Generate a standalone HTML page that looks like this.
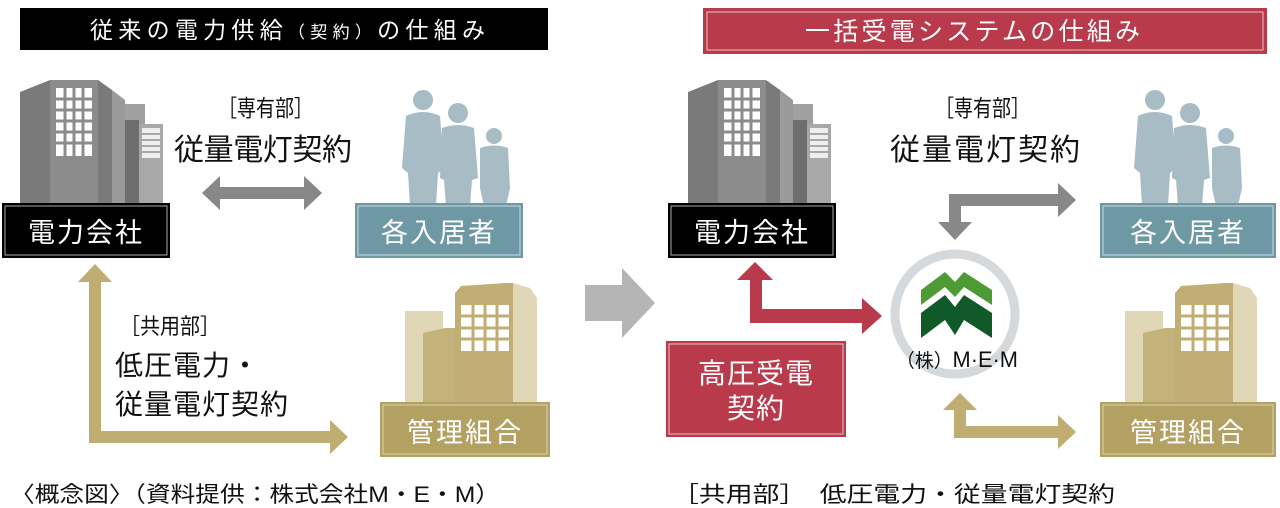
<!DOCTYPE html>
<html><head><meta charset="utf-8"><style>
html,body{margin:0;padding:0;background:#fff;}
svg{display:block;}
text{font-family:"Liberation Sans","Noto Sans CJK JP",sans-serif;}
</style></head><body>
<svg width="1280" height="508" viewBox="0 0 1280 508" xmlns="http://www.w3.org/2000/svg">
<defs>
<g id="bldgGrey">
  <polygon points="0,12 30,0 78,0 92,10 92,125 0,125" fill="#7a7a7a"/>
  <rect x="30" y="0" width="48" height="125" fill="#8c8c8c"/>
  <rect x="36" y="8" width="36" height="68" fill="#fff"/>
  <g stroke="#8c8c8c" stroke-width="3"><line x1="45" y1="8" x2="45" y2="76"/><line x1="54" y1="8" x2="54" y2="76"/><line x1="63" y1="8" x2="63" y2="76"/><line x1="36" y1="19" x2="72" y2="19"/><line x1="36" y1="30" x2="72" y2="30"/><line x1="36" y1="41" x2="72" y2="41"/><line x1="36" y1="52" x2="72" y2="52"/><line x1="36" y1="63" x2="72" y2="63"/></g>
  <polygon points="92,10 105,20 105,125 92,125" fill="#9a9a9a"/>
  <rect x="105" y="24" width="20" height="101" fill="#a0a0a0"/>
  <rect x="105" y="40" width="14" height="85" fill="#6e6e6e"/>
  <rect x="119" y="44" width="24" height="81" fill="#a8a8a8"/>
  <rect x="122" y="48" width="18" height="30" fill="#eee"/>
  <g stroke="#a8a8a8" stroke-width="2"><line x1="122" y1="54" x2="140" y2="54"/><line x1="122" y1="60" x2="140" y2="60"/><line x1="122" y1="66" x2="140" y2="66"/><line x1="122" y1="72" x2="140" y2="72"/></g>
</g>
<g id="people" fill="#a7bcc5">
  <circle cx="25" cy="12" r="10"/>
  <path d="M8,28 Q25,20 42,28 L46,80 L40,85 L38,118 L12,118 L10,85 L4,80 Z"/>
  <circle cx="60" cy="25" r="10"/>
  <path d="M44,40 Q60,34 76,40 L80,90 L74,92 L72,118 L48,118 L46,92 L42,90 Z"/>
  <circle cx="96" cy="48" r="8"/>
  <path d="M82,60 Q96,55 110,60 L112,100 L108,118 L86,118 L82,100 Z"/>
</g>
<g id="bldgGold">
  <rect x="0" y="28" width="38" height="92" fill="#e0d7b6"/>
  <polygon points="18,50 40,45 50,45 50,120 18,120" fill="#c3b27a"/>
  <polygon points="50,10 56,3 100,0 108,0 108,120 50,120" fill="#c0ae74"/>
  <polygon points="108,0 125,5 132,15 132,120 108,120" fill="#e0d7b6"/>
  <rect x="56" y="22" width="48" height="46" fill="#fff"/>
  <g stroke="#c0ae74" stroke-width="3"><line x1="68" y1="22" x2="68" y2="68"/><line x1="80" y1="22" x2="80" y2="68"/><line x1="92" y1="22" x2="92" y2="68"/><line x1="56" y1="33" x2="104" y2="33"/><line x1="56" y1="45" x2="104" y2="45"/><line x1="56" y1="56" x2="104" y2="56"/></g>
</g>
</defs>

<!-- titles -->
<rect x="20" y="8" width="528" height="42" fill="#000"/>
<text x="90" y="38" font-size="23" fill="#fff" textLength="395" lengthAdjust="spacing">従来の電力供給<tspan font-size="17">（契約）</tspan>の仕組み</text>
<rect x="703" y="8" width="564" height="46" fill="#b83a4b"/>
<rect x="707" y="12" width="556" height="38" fill="none" stroke="#e8c4c9" stroke-width="1"/>
<text x="805" y="40" font-size="25" fill="#fff" textLength="335" lengthAdjust="spacing">一括受電システムの仕組み</text>

<!-- LEFT -->
<use href="#bldgGrey" x="20" y="80"/>
<rect x="2" y="203" width="168" height="55" fill="#000"/>
<rect x="5" y="206" width="162" height="49" fill="none" stroke="#aaa" stroke-width="1"/>
<text x="86" y="242" font-size="27" fill="#fff" text-anchor="middle" letter-spacing="2">電力会社</text>

<use href="#people" x="398" y="88"/>
<rect x="355" y="203" width="168" height="55" fill="#6e98a3"/>
<rect x="358" y="206" width="162" height="49" fill="none" stroke="#c9dbe0" stroke-width="1"/>
<text x="439" y="242" font-size="27" fill="#fff" text-anchor="middle" letter-spacing="2">各入居者</text>

<text x="218" y="116" font-size="23" fill="#111" textLength="95" lengthAdjust="spacingAndGlyphs">［専有部］</text>
<text x="174" y="160" font-size="30" fill="#111" textLength="178" lengthAdjust="spacing">従量電灯契約</text>
<polygon points="202,193 220,176 220,187 304,187 304,176 322,193 304,210 304,199 220,199 220,210" fill="#888"/>

<!-- left gold L arrow -->
<polygon points="78,282 95,264 112,282 101,282 101,431 330,431 330,420 348,437 330,454 330,443 89,443 89,282" fill="#bfad72"/>
<text x="120" y="334" font-size="22" fill="#111" textLength="100" lengthAdjust="spacingAndGlyphs">［共用部］</text>
<text x="115" y="375" font-size="28" fill="#111" letter-spacing="1">低圧電力・</text>
<text x="115" y="414" font-size="28" fill="#111" letter-spacing="1">従量電灯契約</text>

<use href="#bldgGold" x="405" y="283"/>
<rect x="380" y="402" width="170" height="55" fill="#b3a063"/>
<rect x="383" y="405" width="164" height="49" fill="none" stroke="#ddd2ad" stroke-width="1"/>
<text x="465" y="442" font-size="27" fill="#fff" text-anchor="middle" letter-spacing="2">管理組合</text>

<!-- middle arrow -->
<polygon points="585,285 622,285 622,268 655,303 622,338 622,321 585,321" fill="#b5b5b5"/>

<!-- RIGHT -->
<use href="#bldgGrey" x="688" y="80"/>
<rect x="668" y="203" width="168" height="55" fill="#000"/>
<rect x="671" y="206" width="162" height="49" fill="none" stroke="#aaa" stroke-width="1"/>
<text x="752" y="242" font-size="27" fill="#fff" text-anchor="middle" letter-spacing="2">電力会社</text>

<text x="935" y="116" font-size="23" fill="#111" textLength="95" lengthAdjust="spacingAndGlyphs">［専有部］</text>
<text x="890" y="160" font-size="30" fill="#111" textLength="190" lengthAdjust="spacing">従量電灯契約</text>
<polygon points="938,222 949,222 949,194 1058,194 1058,183 1076,200 1058,217 1058,206 961,206 961,222 972,222 955,240" fill="#888"/>

<use href="#people" x="1130" y="88"/>
<rect x="1100" y="203" width="176" height="55" fill="#6e98a3"/>
<rect x="1103" y="206" width="170" height="49" fill="none" stroke="#c9dbe0" stroke-width="1"/>
<text x="1188" y="242" font-size="27" fill="#fff" text-anchor="middle" letter-spacing="2">各入居者</text>

<!-- red arrow -->
<polygon points="737,280 755,262 773,280 762,280 762,309 862,309 862,298 882,316 862,334 862,323 750,323 750,280" fill="#b83a4b"/>

<!-- MEM circle -->
<circle cx="955" cy="314" r="60" fill="none" stroke="#d5d9dc" stroke-width="9"/>
<polygon points="921,290 945,272 955,282 964,272 992,290 992,305 964,287 955,297 945,287 921,305" fill="#4e9a35"/>
<polygon points="921,313 945,295 955,307 964,295 992,313 992,338 964,320 955,335 945,320 921,338" fill="#0f5a28"/>
<text x="896" y="367" font-size="22" fill="#111" textLength="122" lengthAdjust="spacingAndGlyphs"><tspan font-size="19">（株）</tspan>M·E·M</text>

<rect x="666" y="341" width="180" height="96" fill="#b83a4b"/>
<rect x="669" y="344" width="174" height="90" fill="none" stroke="#e8c4c9" stroke-width="1"/>
<text x="756" y="383" font-size="28" fill="#fff" text-anchor="middle" letter-spacing="1">高圧受電</text>
<text x="756" y="418" font-size="28" fill="#fff" text-anchor="middle" letter-spacing="1">契約</text>

<!-- gold arrow right -->
<polygon points="943,410 960,393 977,410 966,410 966,426 1058,426 1058,415 1076,432 1058,449 1058,438 954,438 954,410" fill="#bfad72"/>

<use href="#bldgGold" x="1125" y="283"/>
<rect x="1100" y="402" width="176" height="55" fill="#b3a063"/>
<rect x="1103" y="405" width="170" height="49" fill="none" stroke="#ddd2ad" stroke-width="1"/>
<text x="1188" y="442" font-size="27" fill="#fff" text-anchor="middle" letter-spacing="2">管理組合</text>

<!-- bottom captions -->
<text x="10" y="502" font-size="22" fill="#111" textLength="490" lengthAdjust="spacingAndGlyphs">〈概念図〉（資料提供：株式会社M・E・M）</text>
<text x="672" y="502" font-size="22" fill="#111" textLength="443" lengthAdjust="spacingAndGlyphs">［共用部］　低圧電力・従量電灯契約</text>
</svg>
</body></html>
